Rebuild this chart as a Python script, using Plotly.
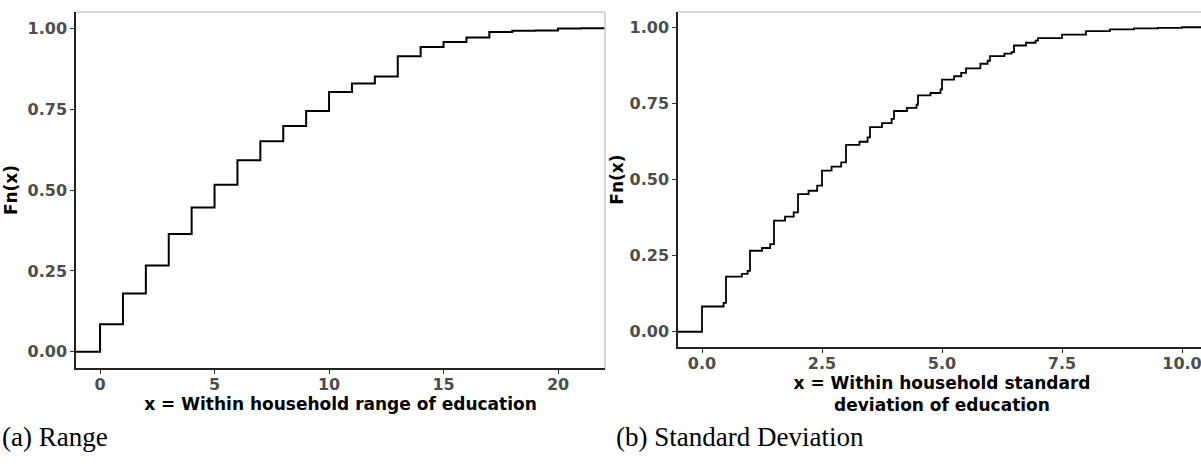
import plotly.graph_objects as go

# ---- data: left panel (range of education) ----
range_x = [0, 1, 2, 3, 4, 5, 6, 7, 8, 9, 10, 11, 12, 13, 14, 15, 16, 17, 18, 19, 20, 21]
range_fn = [0.085, 0.180, 0.267, 0.364, 0.446, 0.516, 0.592, 0.651, 0.698, 0.744, 0.803,
            0.829, 0.851, 0.913, 0.942, 0.957, 0.971, 0.988, 0.992, 0.993, 0.999, 1.000]

# ---- data: right panel (standard deviation of education) ----
sd_x = [0.0, 0.45, 0.5, 0.83, 0.95, 1.0, 1.25, 1.42, 1.5, 1.73, 1.91, 2.0, 2.22, 2.4, 2.5,
        2.7, 2.9, 3.0, 3.28, 3.45, 3.5, 3.75, 3.95, 4.0, 4.27, 4.47, 4.5, 4.76, 4.97, 5.0,
        5.25, 5.4, 5.5, 5.8, 5.95, 6.0, 6.3, 6.45, 6.5, 6.75, 6.95, 7.0, 7.5, 8.0, 8.5,
        9.0, 9.5, 10.0]
sd_fn = [0.083, 0.095, 0.181, 0.190, 0.200, 0.266, 0.275, 0.288, 0.365, 0.378, 0.392, 0.452,
         0.463, 0.480, 0.529, 0.542, 0.556, 0.614, 0.624, 0.638, 0.672, 0.685, 0.699, 0.725,
         0.735, 0.746, 0.776, 0.784, 0.796, 0.828, 0.839, 0.850, 0.865, 0.880, 0.890, 0.905,
         0.913, 0.918, 0.940, 0.949, 0.956, 0.964, 0.976, 0.987, 0.993, 0.996, 0.998, 1.000]

left_xticks = [0, 5, 10, 15, 20]
right_xticks = [0.0, 2.5, 5.0, 7.5, 10.0]
y_ticks = [0.0, 0.25, 0.50, 0.75, 1.00]

left_xrange = [-1.05, 22.05]
right_xrange = [-0.5, 10.5]
y_range = [-0.05, 1.05]

# figure is slightly wider than the 1201px window: the right panel runs off the edge as in the reference
W, H = 1206, 468

def ecdf_xy(xs, fs, lo, hi):
    return [lo] + list(xs) + [hi], [0.0] + list(fs) + [fs[-1]]

lx, ly = ecdf_xy(range_x, range_fn, left_xrange[0], left_xrange[1])
rx, ry = ecdf_xy(sd_x, sd_fn, right_xrange[0], right_xrange[1])

fig = go.Figure()
fig.add_trace(go.Scatter(x=lx, y=ly, mode="lines", line=dict(color="black", width=2, shape="hv"),
                         xaxis="x", yaxis="y", showlegend=False, hoverinfo="skip"))
fig.add_trace(go.Scatter(x=rx, y=ry, mode="lines", line=dict(color="black", width=1.8, shape="hv"),
                         xaxis="x2", yaxis="y2", showlegend=False, hoverinfo="skip"))

tick_font = dict(family="DejaVu Sans", size=16, color="#4D4D4D", weight="bold")
title_font = dict(family="DejaVu Sans", size=17, color="black", weight="bold")

common_axis = dict(showgrid=False, zeroline=False, showline=True, linecolor="#222222",
                   linewidth=1.5, ticks="outside", ticklen=4, tickcolor="#333333",
                   tickwidth=1, tickfont=tick_font, automargin=False, fixedrange=True)

fig.update_layout(
    width=W, height=H,
    margin=dict(l=0, r=0, t=0, b=0),
    paper_bgcolor="white", plot_bgcolor="white",
    xaxis=dict(domain=[76 / W, 605 / W], range=left_xrange, tickvals=left_xticks,
               ticktext=[str(v) for v in left_xticks], anchor="y", ticklabelstandoff=-3,
               title=dict(text="x = Within household range of education", font=title_font, standoff=2),
               **common_axis),
    yaxis=dict(domain=[1 - 368 / H, 1 - 12 / H], range=y_range, tickvals=y_ticks,
               ticktext=[f"{v:.2f}" for v in y_ticks], anchor="x",
               title=dict(text="Fn(x)", font=title_font, standoff=6),
               **common_axis),
    xaxis2=dict(domain=[678 / W, 1.0], range=right_xrange, tickvals=right_xticks,
                ticktext=[f"{v:.1f}" for v in right_xticks], anchor="y2", ticklabelstandoff=-3,
                title=dict(text="x = Within household standard<br>deviation of education",
                           font=title_font, standoff=0),
                **common_axis),
    yaxis2=dict(domain=[1 - 347 / H, 1 - 12 / H], range=y_range, tickvals=y_ticks,
                ticktext=[f"{v:.2f}" for v in y_ticks], anchor="x2",
                title=dict(text="Fn(x)", font=title_font, standoff=2),
                **common_axis),
)

# light gray frame lines (top/right) of each panel
border = dict(color="#C8C8C8", width=1.5)
fig.add_shape(type="line", xref="x domain", yref="y domain", x0=0, x1=1, y0=1, y1=1, line=border)
fig.add_shape(type="line", xref="x domain", yref="y domain", x0=1, x1=1, y0=0, y1=1, line=border)
fig.add_shape(type="line", xref="x2 domain", yref="y2 domain", x0=0, x1=1, y0=1, y1=1, line=border)

cap_font = dict(family="Liberation Serif", size=27, color="black")
fig.add_annotation(text="(a) Range", xref="paper", yref="paper", x=0, y=1 - 437 / H,
                   xanchor="left", yanchor="middle", showarrow=False, font=cap_font)
fig.add_annotation(text="(b) Standard Deviation", xref="paper", yref="paper", x=614 / W,
                   y=1 - 437 / H, xanchor="left", yanchor="middle", showarrow=False, font=cap_font)

fig.write_html(
    "out.html",
    config={"displayModeBar": False},
    post_script="document.body.style.margin='0px';document.body.style.overflow='hidden';"
                "document.documentElement.style.overflow='hidden';",
)
